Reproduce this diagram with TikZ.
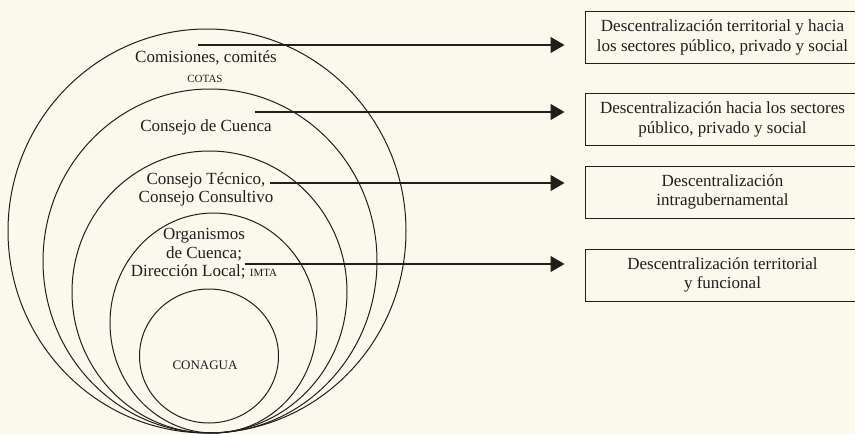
\documentclass[tikz,border=0pt]{standalone}
\usepackage{fontspec}
\setmainfont{Liberation Serif}
\usetikzlibrary{shapes.geometric,arrows.meta}
\definecolor{paper}{RGB}{251,248,236}
\definecolor{ink}{RGB}{34,30,28}
\tikzset{
  ring/.style={ellipse,draw=ink,line width=1pt,inner sep=0pt},
  lbl/.style={text=ink,align=center,inner sep=0pt,font=\fontsize{17}{18}\selectfont},
  sc/.style={text=ink,inner sep=0pt},
  boxnode/.style={draw=ink,line width=1pt,minimum width=275pt,minimum height=52pt,inner sep=0pt,
    align=center,text=ink,font=\fontsize{17}{19.5}\selectfont},
  arr/.style={draw=ink,line width=1.2pt,-{Triangle[length=14pt,width=16pt]},shorten >=20pt}
}
\begin{document}
\begin{tikzpicture}[x=1pt,y=-1pt]
\useasboundingbox (0,0) rectangle (855,434);
\fill[paper] (0,0) rectangle (855,434);
\begin{scope}
\clip (0,0) rectangle (855,434);
% rings
\node[ring,minimum width=398pt,minimum height=404pt] (c1) at (207,231) {};
\node[ring,minimum width=334pt,minimum height=344pt] (c2) at (210,261) {};
\node[ring,minimum width=275pt,minimum height=282pt] (c3) at (209.5,292) {};
\node[ring,minimum width=207pt,minimum height=220pt] (c4) at (213.5,323) {};
\node[ring,minimum width=139pt,minimum height=134pt] (c5) at (209,356) {};
% boxes
\node[boxnode] (b1) at (722.5,37.5) {Descentralización territorial y hacia\\los sectores público, privado y social};
\node[boxnode] (b2) at (722.5,119.5) {Descentralización hacia los sectores\\público, privado y social};
\node[boxnode] (b3) at (722.5,192) {Descentralización\\intragubernamental};
\node[boxnode] (b4) at (722.5,275) {Descentralización territorial\\y funcional};
\end{scope}
% labels
\node[lbl] (t1) at (206,58) {Comisiones, comités};
\node[sc,font=\fontsize{11}{12}\selectfont] (t1b) at (205,79) {COTAS};
\node[lbl] (t2) at (206,127) {Consejo de Cuenca};
\node[lbl] (t3) at (206,189) {Consejo Técnico,\\Consejo Consultivo};
\node[lbl,font=\fontsize{17}{18.5}\selectfont] (t4) at (204,254) {Organismos\\de Cuenca;\\Dirección Local; {\fontsize{11}{12}\selectfont IMTA}};
\node[sc,font=\fontsize{13}{14}\selectfont] (t5) at (205,365) {CONAGUA};
% arrow starts
\coordinate (s1) at (198,45);
\coordinate (s2) at (255,112);
\coordinate (s3) at (270,183);
\coordinate (s4) at (245,264);
\draw[arr] (s1) -- (s1 -| b1.west);
\draw[arr] (s2) -- (s2 -| b2.west);
\draw[arr] (s3) -- (s3 -| b3.west);
\draw[arr] (s4) -- (s4 -| b4.west);
\end{tikzpicture}
\end{document}
